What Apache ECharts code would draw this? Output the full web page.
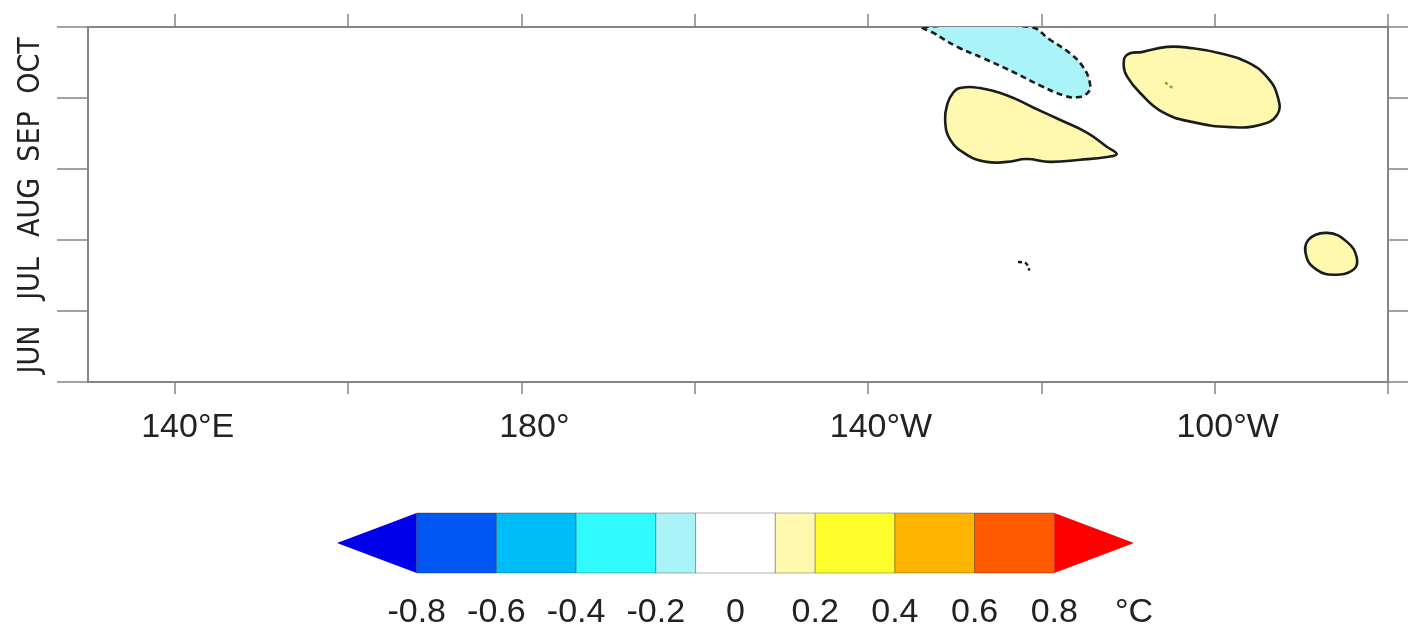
<!DOCTYPE html>
<html>
<head>
<meta charset="utf-8">
<script src="https://cdn.jsdelivr.net/npm/echarts@6/dist/echarts.min.js"></script>
<style>
html,body{margin:0;padding:0;background:#ffffff;}
#chart{width:1408px;height:631px;}
</style>
</head>
<body>
<div id="chart"></div>
<script>
// ---------- data ----------
const months = ['JUN', 'JUL', 'AUG', 'SEP', 'OCT'];
const lonCategories = [130, 140, 150, 160, 170, 180, 190, 200, 210, 220, 230, 240, 250, 260, 270, 280];
const lonTickValues = [140, 160, 180, 200, 220, 240, 260, 280];
const lonLabelText = { 140: '140°E', 180: '180°', 220: '140°W', 260: '100°W' };

// colour bar levels (°C) and colours (below first level ... above last level)
const levels = [-0.8, -0.6, -0.4, -0.2, -0.1, 0.1, 0.2, 0.4, 0.6, 0.8];
const levelColors = ['#0000ea', '#0057f2', '#00bdf8', '#30fbff', '#aaf3f8', '#ffffff',
                     '#fff9b0', '#ffff2e', '#ffb400', '#ff5a00', '#ff0000'];
const barUnit = '°C';

// contour outlines: [longitude (°E), time (months since 1 Jun)]
const coolPatch = [[226.3, 5.0], [238.7, 5.0], [241.0, 4.82], [243.3, 4.63], [244.8, 4.44], [245.6, 4.21],
  [245.4, 4.08], [244.1, 4.01], [242.5, 4.04], [239.8, 4.18], [236.7, 4.37], [233.3, 4.56],
  [230.3, 4.72], [227.5, 4.92]];
const warmPatchA = [[230.6, 4.14], [232.9, 4.14], [236.0, 4.04], [239.0, 3.87], [242.2, 3.69], [245.3, 3.51],
  [247.6, 3.31], [248.7, 3.21], [247.6, 3.17], [244.5, 3.13], [241.0, 3.10], [238.3, 3.14],
  [236.0, 3.10], [233.7, 3.10], [231.4, 3.20], [229.5, 3.41], [228.9, 3.69], [229.2, 3.93], [229.8, 4.07]];
const warmPatchB = [[249.9, 4.61], [251.7, 4.65], [254.5, 4.72], [257.5, 4.70], [260.6, 4.63], [263.7, 4.51],
  [266.0, 4.30], [267.3, 4.01], [267.2, 3.76], [265.2, 3.62], [261.8, 3.59], [257.5, 3.66],
  [254.0, 3.80], [251.4, 4.07], [249.9, 4.30], [249.5, 4.46]];
const warmPatchC = [[270.8, 2.0], [273.0, 2.10], [275.3, 1.97], [276.4, 1.75], [276.0, 1.58], [273.7, 1.51],
  [271.8, 1.58], [270.6, 1.76]];
const warmSpeck = [[254.3, 4.22], [254.8, 4.17], [255.4, 4.12]];
const coolSpeck = [[237.3, 1.69], [238.1, 1.68], [238.5, 1.63], [238.6, 1.57]];

// ---------- build ----------
const FONT = 'Liberation Sans, Arial, sans-serif';
const NARROW = '"DejaVu Sans Condensed", "Liberation Sans", Arial, sans-serif';
const FRAME = '#858585';

const patches = [
  { pts: coolPatch, band: 4, dashed: true, closed: true },
  { pts: warmPatchA, band: 6, dashed: false, closed: true },
  { pts: warmPatchB, band: 6, dashed: false, closed: true },
  { pts: warmPatchC, band: 6, dashed: false, closed: true },
  { pts: warmSpeck, band: 7, dashed: false, closed: false, color: '#9a9a10' },
  { pts: coolSpeck, band: 4, dashed: true, closed: false }
];

const barItems = [];
barItems.push([-1.0, levels[0], 0, -1]);
for (let i = 0; i < levels.length - 1; i++) barItems.push([levels[i], levels[i + 1], i + 1, 0]);
barItems.push([levels[levels.length - 1], 1.0, levelColors.length - 1, 1]);

const chart = echarts.init(document.getElementById('chart'), null, { renderer: 'canvas' });

const catTickShow = (idx, val) => lonTickValues.indexOf(Number(val)) >= 0;
const catLabelShow = (idx, val) => lonLabelText[Number(val)] !== undefined;

const option = {
  animation: false,
  backgroundColor: '#ffffff',
  grid: [
    { left: 88, right: 20, top: 27, height: 355, containLabel: false },
    { left: 337, width: 797, top: 513, height: 60, containLabel: false }
  ],
  xAxis: [
    { // bottom display axis
      type: 'category', gridIndex: 0, position: 'bottom', data: lonCategories.map(String), boundaryGap: false,
      axisLine: { show: true, lineStyle: { color: FRAME, width: 2 } },
      axisTick: { show: true, inside: false, length: 12, interval: catTickShow, lineStyle: { color: FRAME, width: 1.5 } },
      axisLabel: { show: true, interval: catLabelShow, margin: 29, fontSize: 34, fontFamily: FONT, color: '#222',
        padding: [0, 0, 0, 26], formatter: v => lonLabelText[Number(v)] || '' },
      splitLine: { show: false }
    },
    { // top display axis
      type: 'category', gridIndex: 0, position: 'top', data: lonCategories.map(String), boundaryGap: false,
      axisLine: { show: true, lineStyle: { color: FRAME, width: 2 } },
      axisTick: { show: true, inside: false, length: 13, interval: catTickShow, lineStyle: { color: FRAME, width: 1.5 } },
      axisLabel: { show: false }, splitLine: { show: false }
    },
    { // data axis
      type: 'value', gridIndex: 0, min: 130, max: 280, show: false
    },
    { // colour bar axis
      type: 'value', gridIndex: 1, min: -1.0, max: 1.0, interval: 0.2,
      axisLine: { show: false }, axisTick: { show: false }, splitLine: { show: false },
      axisLabel: { show: true, margin: 23, fontSize: 34, fontFamily: FONT, color: '#222',
        formatter: v => {
          const r = Math.round(v * 10) / 10;
          if (Math.abs(r - 1.0) < 1e-6) return barUnit;
          if (Math.abs(r + 1.0) < 1e-6) return '';
          return levels.some(l => Math.abs(l - r) < 1e-6) || Math.abs(r) < 1e-6 ? String(r) : '';
        } }
    }
  ],
  yAxis: [
    { // left display axis
      type: 'category', gridIndex: 0, position: 'left', data: months, boundaryGap: true,
      axisLine: { show: true, lineStyle: { color: FRAME, width: 2 } },
      axisTick: { show: true, inside: false, length: 31, lineStyle: { color: FRAME, width: 1.5 } },
      axisLabel: { show: true, interval: 0, rotate: 90, margin: 42, fontSize: 30, fontFamily: NARROW, color: '#222',
        padding: [0, 6, 0, 0] },
      splitLine: { show: false }
    },
    { // right display axis
      type: 'category', gridIndex: 0, position: 'right', data: months, boundaryGap: true,
      axisLine: { show: true, lineStyle: { color: FRAME, width: 2 } },
      axisTick: { show: true, inside: false, length: 31, lineStyle: { color: FRAME, width: 1.5 } },
      axisLabel: { show: false }, splitLine: { show: false }
    },
    { // data axis
      type: 'value', gridIndex: 0, min: 0, max: 5, show: false
    },
    { // colour bar axis
      type: 'value', gridIndex: 1, min: 0, max: 1, show: false
    }
  ],
  series: [
    {
      type: 'custom', name: 'anomaly contours', xAxisIndex: 2, yAxisIndex: 2, clip: true,
      data: patches.map((p, i) => [i]),
      renderItem: (params, api) => {
        const p = patches[api.value(0)];
        const pts = p.pts.map(d => api.coord(d));
        const stroke = p.color || '#1c1c1c';
        if (p.closed) {
          return {
            type: 'polygon',
            shape: { points: pts, smooth: 0.45 },
            style: { fill: levelColors[p.band], stroke: stroke, lineWidth: 2.6, lineDash: p.dashed ? [6, 4] : null }
          };
        }
        return {
          type: 'polyline',
          shape: { points: pts, smooth: 0.3 },
          style: { fill: null, stroke: stroke, lineWidth: 2.4, lineDash: p.dashed ? [4, 3] : [3, 3] }
        };
      }
    },
    {
      type: 'custom', name: 'colour bar', xAxisIndex: 3, yAxisIndex: 3, clip: false,
      data: barItems,
      renderItem: (params, api) => {
        const lo = api.value(0), hi = api.value(1), ci = api.value(2), kind = api.value(3);
        const a = api.coord([lo, 1]);
        const b = api.coord([hi, 0]);
        const color = levelColors[ci];
        if (kind === 0) {
          return {
            type: 'rect',
            shape: { x: a[0], y: a[1], width: b[0] - a[0], height: b[1] - a[1] },
            style: { fill: color, stroke: 'rgba(40,40,40,0.45)', lineWidth: 0.8 }
          };
        }
        const midY = (a[1] + b[1]) / 2;
        const pts = kind < 0
          ? [[a[0], midY], [b[0], a[1]], [b[0], b[1]]]
          : [[a[0], a[1]], [b[0], midY], [a[0], b[1]]];
        return { type: 'polygon', shape: { points: pts }, style: { fill: color } };
      }
    }
  ]
};
chart.setOption(option);
</script>
</body>
</html>
